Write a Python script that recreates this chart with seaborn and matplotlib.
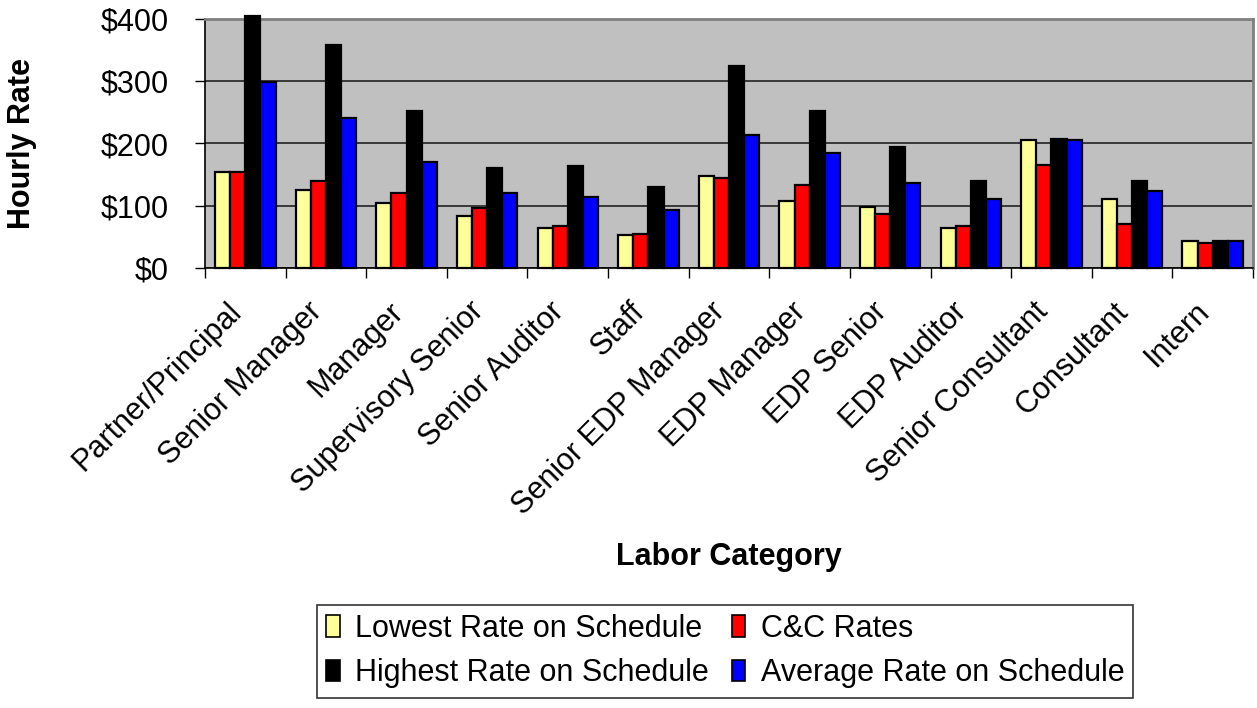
import matplotlib
matplotlib.use("Agg")
import matplotlib.pyplot as plt
import matplotlib.transforms as mtransforms
import seaborn as sns
import pandas as pd
import numpy as np
from matplotlib.patches import Patch
from matplotlib.ticker import FuncFormatter, FixedLocator

categories = [
    "Partner/Principal", "Senior Manager", "Manager", "Supervisory Senior",
    "Senior Auditor", "Staff", "Senior EDP Manager", "EDP Manager",
    "EDP Senior", "EDP Auditor", "Senior Consultant", "Consultant", "Intern",
]
lowest_rate = [154, 126, 105, 83, 64, 53, 148, 108, 98, 64, 206, 111, 44]
cc_rates = [154, 139, 121, 96, 68, 55, 145, 133, 86, 68, 166, 71, 40]
highest_rate = [405, 358, 253, 161, 164, 130, 324, 253, 195, 139, 207, 139, 44]
average_rate = [299, 241, 170, 121, 114, 93, 213, 185, 136, 111, 206, 124, 44]

series_names = [
    "Lowest Rate on Schedule", "C&C Rates",
    "Highest Rate on Schedule", "Average Rate on Schedule",
]
series_values = [lowest_rate, cc_rates, highest_rate, average_rate]
series_colors = ["#FFFF99", "#FF0000", "#000000", "#0000FF"]

rows = []
for name, vals in zip(series_names, series_values):
    for cat, v in zip(categories, vals):
        rows.append({"Labor Category": cat, "Series": name, "Rate": v})
df = pd.DataFrame(rows)

sns.set_theme(style="white")
plt.rcParams["font.family"] = ["Liberation Sans", "DejaVu Sans"]
plt.rcParams["text.color"] = "black"
plt.rcParams["axes.labelcolor"] = "black"
plt.rcParams["xtick.color"] = "black"
plt.rcParams["ytick.color"] = "black"

FS = 22

fig = plt.figure(figsize=(12.57, 7.08), dpi=100)
ax = fig.add_axes([205 / 1257, 1 - 268 / 708, (1253 - 205) / 1257, (268 - 19) / 708])
ax.set_facecolor("#C0C0C0")

sns.barplot(
    data=df, x="Labor Category", y="Rate", hue="Series",
    order=categories, hue_order=series_names, palette=series_colors,
    width=0.75, gap=0, edgecolor="black", linewidth=1.6,
    saturation=1, errorbar=None, legend=False, ax=ax, zorder=3,
)
for p in ax.patches:
    p.set_clip_on(False)

ax.set_ylim(0, 400)
ax.set_xlim(-0.5, len(categories) - 0.5)
ax.yaxis.set_major_locator(FixedLocator([0, 100, 200, 300, 400]))
ax.yaxis.set_major_formatter(FuncFormatter(lambda v, _: f"${v:,.0f}"))
ax.grid(axis="y", color="#222222", linewidth=1.2, zorder=1)
ax.grid(axis="x", visible=False)
ax.set_axisbelow(True)

# category labels at centers, tick marks at group boundaries
ax.set_xticks(range(len(categories)))
ax.set_xticklabels(categories, rotation=45, ha="right", va="center",
                   rotation_mode="anchor")
ax.set_xticks(np.arange(-0.5, len(categories), 1.0), minor=True)
ax.tick_params(axis="x", which="major", length=0, pad=28, labelsize=FS)
ax.tick_params(axis="x", which="minor", length=7, width=1, color="black",
               direction="out", bottom=True)
ax.tick_params(axis="y", which="major", length=7, width=1, color="black",
               direction="out", left=True, pad=19, labelsize=FS)
shift = mtransforms.ScaledTranslation(-8 / 100, 0, fig.dpi_scale_trans)
for lbl in ax.get_xticklabels():
    lbl.set_transform(lbl.get_transform() + shift)

for side in ("left", "bottom"):
    ax.spines[side].set_color("black")
    ax.spines[side].set_linewidth(1.2)
for side in ("top", "right"):
    ax.spines[side].set_color("#808080")
    ax.spines[side].set_linewidth(2)

ax.set_xlabel("Labor Category", fontsize=FS, fontweight="bold")
ax.xaxis.set_label_coords(0.5, -1.10)
ax.set_ylabel("Hourly Rate", fontsize=FS, fontweight="bold")
ax.yaxis.set_label_coords(-0.160, 0.5)

# legend: two rows, two columns (column-major order)
handles = [Patch(facecolor=c, edgecolor="black", linewidth=1.2) for c in series_colors]
order = [0, 2, 1, 3]
leg = fig.legend(
    [handles[i] for i in order], [series_names[i] for i in order],
    ncol=2, loc="center", bbox_to_anchor=(725 / 1257, 1 - 651 / 708),
    fontsize=FS, frameon=True, fancybox=False, edgecolor="black",
    handlelength=0.45, handleheight=0.7, handletextpad=0.5,
    columnspacing=0.75, labelspacing=0.48, borderpad=0.3,
)
leg.get_frame().set_linewidth(1.2)

fig.savefig("out.png", dpi=100, facecolor="white")
